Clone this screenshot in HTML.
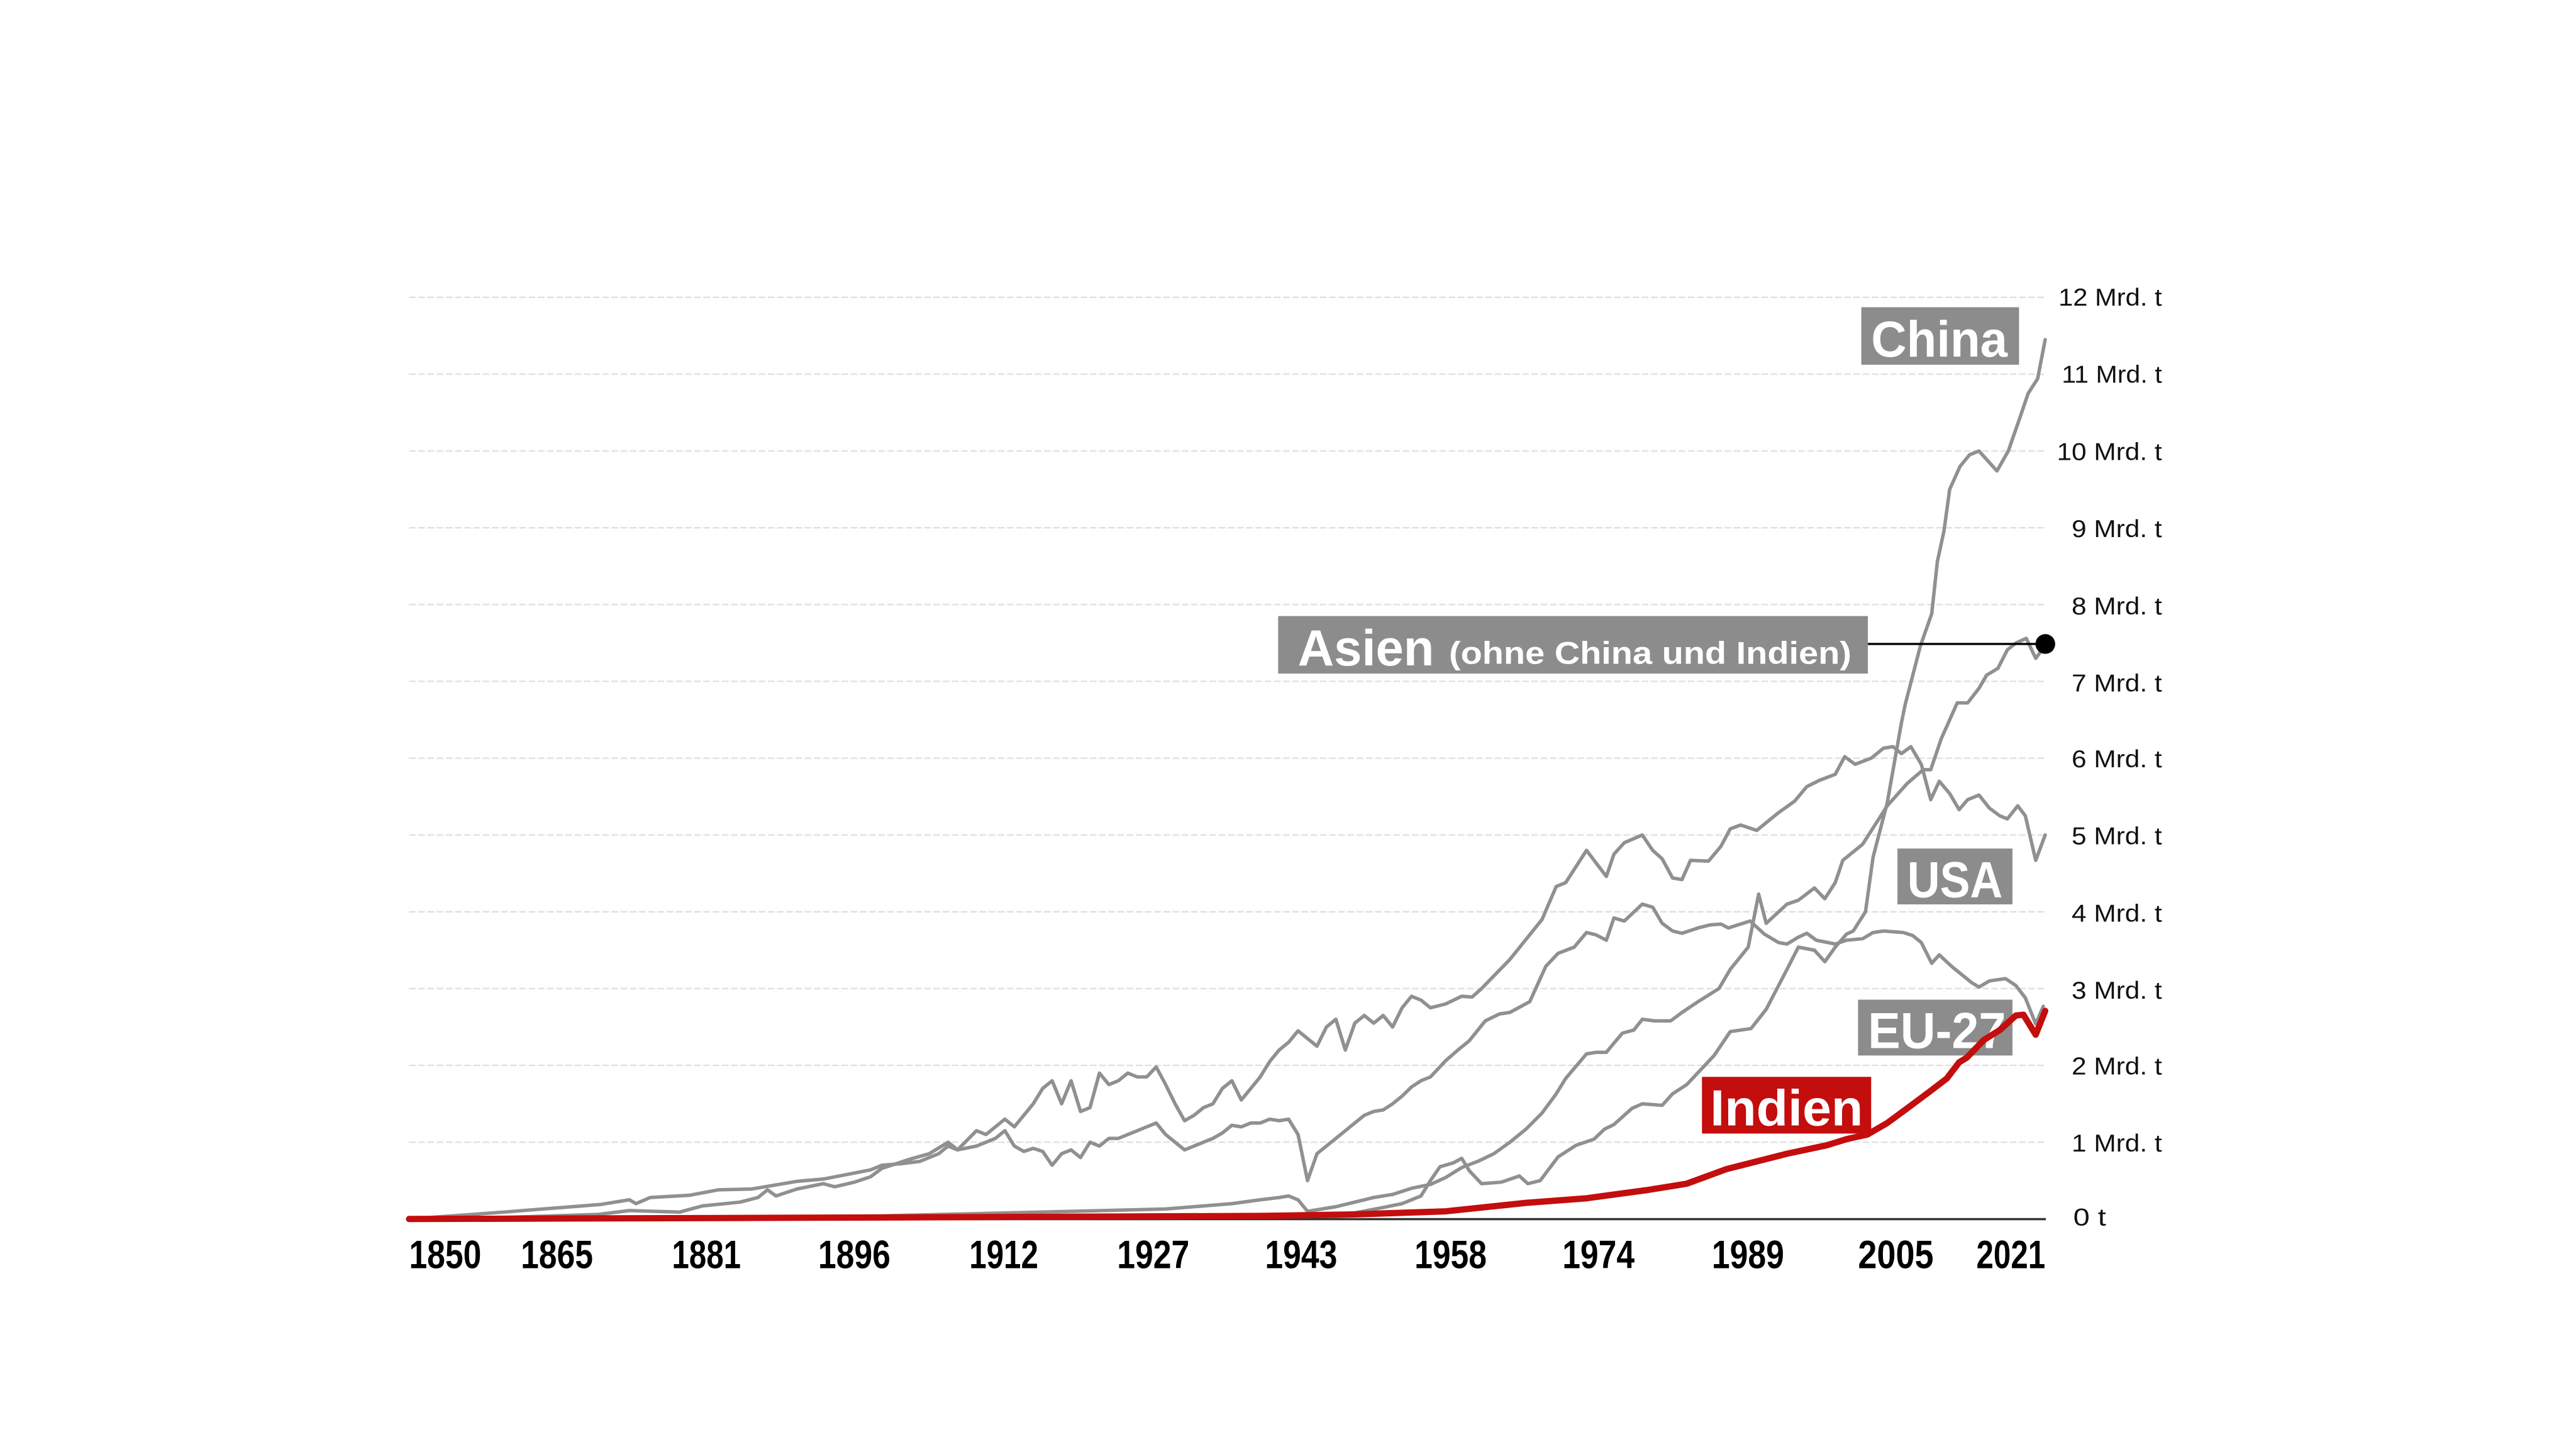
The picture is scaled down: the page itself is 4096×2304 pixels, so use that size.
<!DOCTYPE html>
<html><head><meta charset="utf-8"><style>html,body{margin:0;padding:0;background:#fff}svg{display:block}</style></head>
<body>
<svg xmlns="http://www.w3.org/2000/svg" width="4096" height="2304">
<rect width="4096" height="2304" fill="#fff"/>
<g transform="scale(2.6122)">
  <g stroke="#e0e0e0" stroke-width="0.9" stroke-dasharray="4 1.6">
    <line x1="249" x2="1245" y1="181" y2="181"/><line x1="249" x2="1245" y1="227.75" y2="227.75"/>
    <line x1="249" x2="1245" y1="274.5" y2="274.5"/><line x1="249" x2="1245" y1="321.25" y2="321.25"/>
    <line x1="249" x2="1245" y1="368" y2="368"/><line x1="249" x2="1245" y1="414.75" y2="414.75"/>
    <line x1="249" x2="1245" y1="461.5" y2="461.5"/><line x1="249" x2="1245" y1="508.25" y2="508.25"/>
    <line x1="249" x2="1245" y1="555" y2="555"/><line x1="249" x2="1245" y1="601.75" y2="601.75"/>
    <line x1="249" x2="1245" y1="648.5" y2="648.5"/><line x1="249" x2="1245" y1="695.25" y2="695.25"/>
  </g>
  <g font-family="Liberation Sans, sans-serif" font-size="15" fill="#111" text-anchor="end">
    <text x="1316" y="186" textLength="63" lengthAdjust="spacingAndGlyphs">12 Mrd. t</text>
    <text x="1316" y="233" textLength="61" lengthAdjust="spacingAndGlyphs">11 Mrd. t</text>
    <text x="1316" y="280" textLength="64" lengthAdjust="spacingAndGlyphs">10 Mrd. t</text>
    <text x="1316" y="327" textLength="55" lengthAdjust="spacingAndGlyphs">9 Mrd. t</text>
    <text x="1316" y="374" textLength="55" lengthAdjust="spacingAndGlyphs">8 Mrd. t</text>
    <text x="1316" y="421" textLength="55" lengthAdjust="spacingAndGlyphs">7 Mrd. t</text>
    <text x="1316" y="467" textLength="55" lengthAdjust="spacingAndGlyphs">6 Mrd. t</text>
    <text x="1316" y="514" textLength="55" lengthAdjust="spacingAndGlyphs">5 Mrd. t</text>
    <text x="1316" y="561" textLength="55" lengthAdjust="spacingAndGlyphs">4 Mrd. t</text>
    <text x="1316" y="608" textLength="55" lengthAdjust="spacingAndGlyphs">3 Mrd. t</text>
    <text x="1316" y="654" textLength="55" lengthAdjust="spacingAndGlyphs">2 Mrd. t</text>
    <text x="1316" y="701" textLength="55" lengthAdjust="spacingAndGlyphs">1 Mrd. t</text>
    <text x="1282" y="746" textLength="20" lengthAdjust="spacingAndGlyphs">0 t</text>
  </g>
  <g font-family="Liberation Sans, sans-serif" font-size="24" font-weight="bold" fill="#000" text-anchor="middle">
    <text x="271" y="772" textLength="44" lengthAdjust="spacingAndGlyphs">1850</text>
    <text x="339" y="772" textLength="44" lengthAdjust="spacingAndGlyphs">1865</text>
    <text x="430" y="772" textLength="42" lengthAdjust="spacingAndGlyphs">1881</text>
    <text x="520" y="772" textLength="44" lengthAdjust="spacingAndGlyphs">1896</text>
    <text x="611" y="772" textLength="42" lengthAdjust="spacingAndGlyphs">1912</text>
    <text x="702" y="772" textLength="44" lengthAdjust="spacingAndGlyphs">1927</text>
    <text x="792" y="772" textLength="44" lengthAdjust="spacingAndGlyphs">1943</text>
    <text x="883" y="772" textLength="44" lengthAdjust="spacingAndGlyphs">1958</text>
    <text x="973" y="772" textLength="44" lengthAdjust="spacingAndGlyphs">1974</text>
    <text x="1064" y="772" textLength="44" lengthAdjust="spacingAndGlyphs">1989</text>
    <text x="1154" y="772" textLength="46" lengthAdjust="spacingAndGlyphs">2005</text>
    <text x="1224" y="772" textLength="42" lengthAdjust="spacingAndGlyphs">2021</text>
  </g>
</g>
<line x1="650" x2="3253" y1="1938.5" y2="1938.5" stroke="#333" stroke-width="3.5"/>
<g transform="matrix(15.038 0 0 -122.12 -27169.9 1938.3)" fill="none" stroke-linejoin="round" stroke-linecap="round">
  <g stroke="#909090">
    <polyline vector-effect="non-scaling-stroke" stroke-width="5.5" points="1850,0 1860,0.02 1870,0.06 1873.3,0.11 1878.6,0.09 1881,0.17 1885,0.22 1886.9,0.28 1887.9,0.38 1888.8,0.3 1891,0.39 1893.8,0.46 1895,0.42 1897.1,0.48 1898.8,0.55 1900,0.66 1903,0.78 1905,0.85 1907,1.0 1908,0.9 1910,1.15 1911,1.1 1913,1.3 1914,1.2 1916,1.5 1917,1.7 1918,1.8 1919,1.5 1920,1.8 1921,1.4 1922,1.45 1923,1.9 1924,1.75 1925,1.8 1926,1.9 1927,1.85 1928,1.85 1929,1.98 1930,1.75 1931,1.5 1932,1.28 1933,1.35 1934,1.45 1935,1.5 1936,1.7 1937,1.8 1938,1.55 1939,1.7 1940,1.85 1941,2.05 1942,2.2 1943,2.3 1944,2.45 1945,2.35 1946,2.25 1947,2.5 1948,2.6 1949,2.2 1950,2.55 1951,2.65 1952,2.55 1953,2.65 1954,2.5 1955,2.75 1956,2.9 1957,2.85 1958,2.75 1959.6,2.8 1961.3,2.9 1962.4,2.89 1963.4,3.0 1966.4,3.38 1969.8,3.9 1971.3,4.33 1972.3,4.38 1974.5,4.8 1976.6,4.46 1977.4,4.75 1978.5,4.9 1980.4,5.0 1981.5,4.8 1982.5,4.69 1983.6,4.44 1984.6,4.42 1985.5,4.67 1987.4,4.66 1988.7,4.85 1989.7,5.08 1990.8,5.13 1992.5,5.06 1994.8,5.29 1996.5,5.44 1997.8,5.63 1999.1,5.71 2000.8,5.79 2001.8,6.02 2002.9,5.92 2004.6,6.0 2005.9,6.13 2006.9,6.15 2007.8,6.06 2008.8,6.15 2009.9,5.92 2010.9,5.46 2011.8,5.7 2012.9,5.54 2013.9,5.33 2014.8,5.46 2016,5.52 2017.1,5.35 2018.2,5.25 2019,5.21 2020.1,5.38 2020.9,5.25 2022,4.67 2023,5.0"/>
    <polyline vector-effect="non-scaling-stroke" stroke-width="5.5" points="1850,0 1860,0.09 1870.3,0.19 1873.3,0.25 1874,0.2 1875.5,0.28 1879.7,0.31 1882.7,0.38 1886.2,0.39 1891,0.49 1893.8,0.52 1898.8,0.64 1900,0.7 1902,0.72 1904,0.75 1906,0.85 1907,0.95 1908,0.9 1910,0.95 1912,1.05 1913,1.15 1914,0.95 1915,0.88 1916,0.92 1917,0.88 1918,0.7 1919,0.85 1920,0.9 1921,0.8 1922,1.0 1923,0.95 1924,1.05 1925,1.05 1927,1.15 1928,1.2 1929,1.25 1930,1.1 1931,1.0 1932,0.9 1933,0.95 1934,1.0 1935,1.05 1936,1.12 1937,1.22 1938,1.2 1939,1.25 1940,1.25 1941,1.3 1942,1.28 1943,1.3 1944,1.1 1945,0.5 1946,0.85 1947,0.95 1948,1.05 1949,1.15 1950,1.25 1951,1.35 1952,1.4 1953,1.42 1954,1.5 1955,1.6 1956,1.72 1957,1.8 1958,1.85 1959.6,2.06 1960.9,2.2 1962.1,2.32 1963.8,2.58 1965.3,2.67 1966.4,2.69 1968.5,2.83 1970.2,3.29 1971.5,3.46 1973.2,3.54 1974.5,3.73 1975.5,3.7 1976.6,3.63 1977.4,3.92 1978.5,3.88 1980.4,4.1 1981.5,4.06 1982.5,3.85 1983.6,3.75 1984.6,3.72 1986.3,3.79 1987.6,3.83 1988.7,3.84 1989.5,3.79 1991.8,3.88 1993.3,3.71 1994.8,3.6 1995.7,3.58 1996.9,3.67 1997.8,3.72 1998.8,3.63 2000.8,3.58 2002,3.63 2003.7,3.65 2004.8,3.73 2005.9,3.75 2008,3.73 2009,3.69 2009.9,3.6 2011,3.33 2011.8,3.44 2013.1,3.29 2014.3,3.17 2015.2,3.08 2016,3.02 2017.1,3.1 2018.8,3.13 2019.9,3.04 2020.9,2.88 2022,2.54 2022.8,2.77"/>
    <polyline vector-effect="non-scaling-stroke" stroke-width="5.5" points="1850,0.01 1880,0.02 1900,0.04 1910,0.07 1920,0.1 1930,0.13 1937,0.2 1940,0.25 1942,0.28 1943,0.3 1944,0.25 1945,0.1 1946,0.12 1948,0.16 1950,0.22 1952,0.28 1954,0.32 1956,0.4 1958,0.45 1959.6,0.54 1961.3,0.67 1963,0.75 1964.7,0.85 1966.4,1.0 1968.1,1.17 1969.8,1.38 1971.3,1.63 1972.3,1.83 1974.5,2.15 1975.5,2.17 1976.6,2.17 1977.4,2.29 1978.3,2.42 1979.5,2.46 1980.4,2.6 1981.7,2.58 1983.4,2.58 1984.6,2.69 1986.3,2.83 1988.5,3.0 1989.7,3.25 1991.6,3.54 1992.7,4.23 1993.5,3.85 1995.7,4.1 1996.9,4.15 1998.6,4.31 1999.7,4.17 2000.8,4.38 2001.6,4.67 2003.7,4.88 2006.3,5.38 2008.4,5.67 2010.1,5.85 2010.9,5.85 2012,6.25 2013.7,6.72 2014.8,6.72 2016,6.91 2016.8,7.08 2018,7.17 2019,7.41 2019.9,7.5 2021,7.56 2022,7.3 2022.6,7.4 2023,7.5"/>
    <polyline vector-effect="non-scaling-stroke" stroke-width="5.5" points="1850,0.01 1900,0.02 1920,0.03 1940,0.05 1945,0.03 1950,0.08 1953,0.15 1955,0.2 1957,0.3 1958,0.5 1959,0.68 1960.4,0.73 1961.3,0.79 1962.1,0.63 1963.4,0.46 1965.5,0.48 1967.4,0.56 1968.3,0.46 1969.6,0.5 1970.4,0.63 1971.5,0.81 1973.4,0.96 1975.3,1.04 1976.4,1.17 1977.4,1.23 1979.3,1.44 1980.4,1.5 1982.5,1.48 1983.6,1.63 1985.1,1.75 1988,2.13 1989.7,2.44 1991.9,2.48 1993.5,2.73 1995.7,3.25 1996.9,3.54 1998.6,3.5 1999.7,3.35 2000.8,3.54 2002,3.71 2002.7,3.75 2004,4.0 2004.8,4.71 2006.3,5.42 2007.8,6.46 2008.2,6.7 2009.8,7.46 2011,7.88 2011.6,8.56 2012.3,8.96 2012.9,9.5 2014,9.8 2015,9.95 2016,10.0 2017.9,9.74 2019.1,10.0 2020.4,10.46 2021.2,10.75 2022.2,10.94 2023,11.45"/>
  </g>
</g>
<g transform="scale(2.6122)">
  <line x1="1137" x2="1245" y1="392" y2="392" stroke="#000" stroke-width="1.3"/>
  <circle cx="1245" cy="392" r="6" fill="#000"/>
  <g font-family="Liberation Sans, sans-serif" font-weight="bold" fill="#fff">
    <rect x="1133" y="187" width="96" height="35" fill="#8c8c8c"/>
    <text x="1139" y="217" font-size="31" textLength="83" lengthAdjust="spacingAndGlyphs">China</text>
    <rect x="778" y="375" width="359" height="35" fill="#8c8c8c"/>
    <text x="790" y="405" font-size="31" textLength="83" lengthAdjust="spacingAndGlyphs">Asien</text>
    <text x="882" y="404" font-size="19" textLength="245" lengthAdjust="spacingAndGlyphs">(ohne China und Indien)</text>
    <rect x="1155" y="516.5" width="70" height="34" fill="#8c8c8c"/>
    <text x="1161" y="546" font-size="31" textLength="58" lengthAdjust="spacingAndGlyphs">USA</text>
    <rect x="1131" y="608.5" width="94" height="34" fill="#8c8c8c"/>
    <text x="1137" y="638" font-size="31" textLength="84" lengthAdjust="spacingAndGlyphs">EU-27</text>
    <rect x="1036" y="655.5" width="103" height="34.5" fill="#c40d0d"/>
    <text x="1041" y="685" font-size="31" textLength="93" lengthAdjust="spacingAndGlyphs">Indien</text>
  </g>
</g>
<g transform="matrix(15.038 0 0 -122.12 -27169.9 1938.3)" fill="none" stroke-linejoin="round" stroke-linecap="round">
  <polyline vector-effect="non-scaling-stroke" stroke="#c40d0d" stroke-width="10" points="1850,0 1900,0.02 1920,0.03 1940,0.04 1950,0.06 1959.6,0.1 1968.1,0.21 1974.5,0.27 1980.8,0.375 1985.1,0.46 1989.3,0.65 1995.7,0.85 1999.9,0.96 2002,1.04 2004.2,1.1 2006.3,1.25 2008.4,1.44 2010.9,1.67 2012.6,1.83 2013.9,2.04 2014.7,2.1 2016.5,2.33 2018.2,2.46 2019.9,2.65 2020.7,2.66 2022,2.4 2023,2.71"/>
</g>
</svg>
</body></html>
